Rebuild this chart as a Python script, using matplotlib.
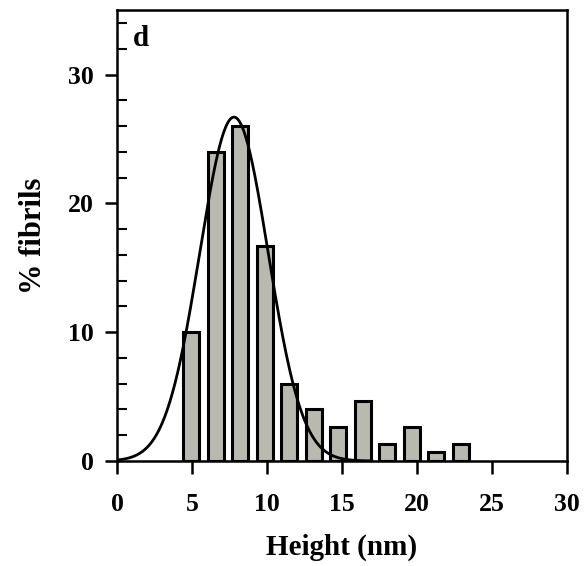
import numpy as np
import matplotlib
matplotlib.use("Agg")
from matplotlib import pyplot as plt
from matplotlib.ticker import MultipleLocator

# histogram of fibril heights (bin centres in nm, % of fibrils)
bin_centers = [4.95, 6.57, 8.22, 9.85, 11.5, 13.12, 14.75, 16.39, 18.02, 19.65, 21.3, 22.93]
percent = [10.0, 24.0, 26.0, 16.7, 6.0, 4.0, 2.67, 4.67, 1.33, 2.67, 0.67, 1.33]
bar_width = 1.07

# gaussian fit parameters
fit_amp = 26.7
fit_mu = 7.8
fit_sigma = 2.28
fit_range = (0.0, 17.0)

x_ticks = [0, 5, 10, 15, 20, 25, 30]
y_ticks = [0, 10, 20, 30]

plt.rcParams['font.family'] = ['Liberation Serif', 'DejaVu Serif']
plt.rcParams['font.weight'] = 'bold'

fig = plt.figure(figsize=(5.88, 5.66), dpi=100)
ax = fig.add_axes([0.199, 0.1855, 0.765, 0.7965])

ax.bar(bin_centers, percent, width=bar_width, color='#b9b9af',
       edgecolor='black', linewidth=2.2, zorder=2)

xs = np.linspace(fit_range[0], fit_range[1], 400)
ys = fit_amp * np.exp(-(xs - fit_mu) ** 2 / (2 * fit_sigma ** 2))
ax.plot(xs, ys, color='black', lw=2.0, zorder=3)

ax.set_xlim(0, 30)
ax.set_ylim(0, 35)
ax.set_xticks(x_ticks)
ax.set_yticks(y_ticks)
ax.yaxis.set_minor_locator(MultipleLocator(2))

for s in ax.spines.values():
    s.set_linewidth(1.8)

ax.tick_params(axis='both', which='major', direction='out', length=9, width=1.8,
               labelsize=18.5)
ax.tick_params(axis='y', which='major', pad=8)
ax.tick_params(axis='x', which='major', pad=14)
ax.tick_params(axis='y', which='minor', direction='in', length=7, width=1.5)
ax.tick_params(axis='x', which='minor', bottom=False)
for lab in ax.get_xticklabels() + ax.get_yticklabels():
    lab.set_fontweight('bold')

ax.set_xlabel('Height (nm)', fontsize=21, fontweight='bold', labelpad=13)
ax.set_ylabel('% fibrils', fontsize=22, fontweight='bold', labelpad=14)
ax.text(0.035, 0.968, 'd', transform=ax.transAxes, fontsize=21,
        fontweight='bold', va='top', ha='left')

fig.savefig('out.png', dpi=100)
